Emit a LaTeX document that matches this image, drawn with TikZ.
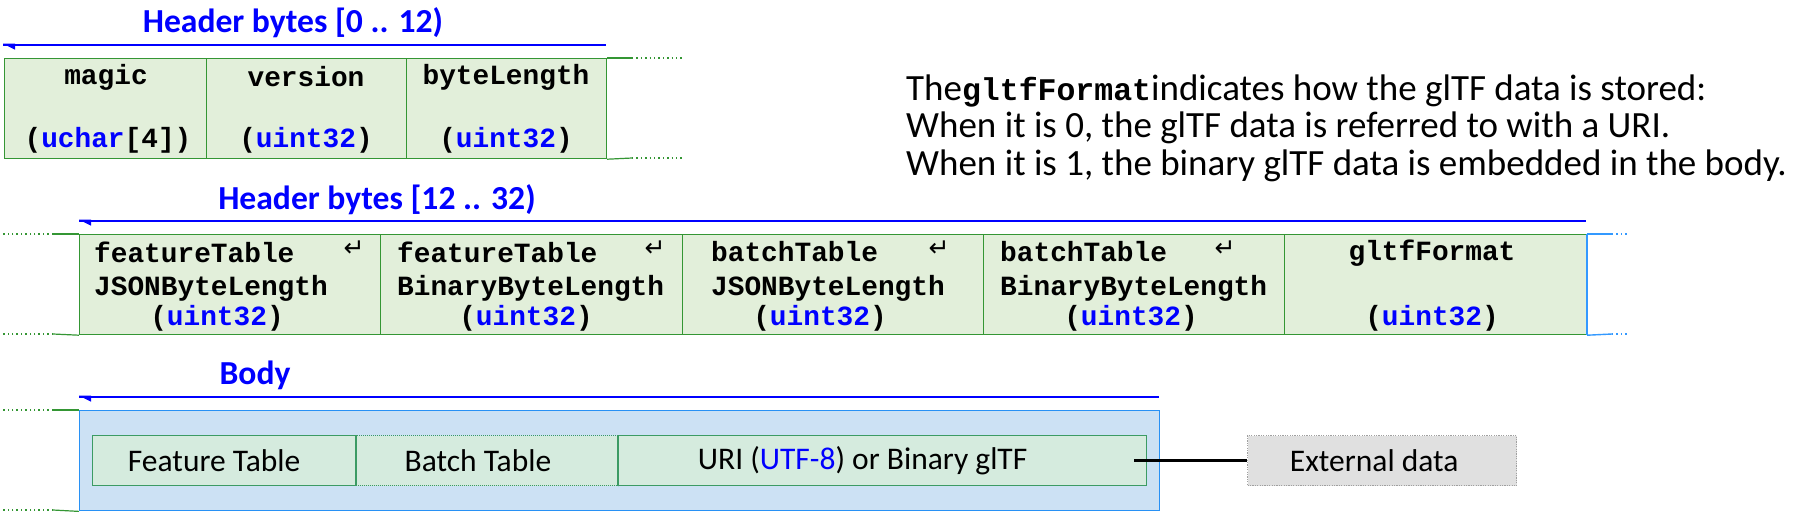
\documentclass[tikz,border=0pt]{standalone}
\usepackage{fontspec}
\setmainfont{Carlito}
\newfontfamily\monof{Liberation Mono}
\newfontfamily\symf{DejaVu Sans}
\usetikzlibrary{calc}
\definecolor{rowfill}{RGB}{226,239,218}
\definecolor{rowline}{RGB}{52,150,52}
\definecolor{bblue}{RGB}{0,0,255}
\definecolor{lblue}{RGB}{51,153,255}
\definecolor{bodyfill}{RGB}{204,225,244}
\definecolor{bodyline}{RGB}{40,145,245}
\definecolor{infill}{RGB}{213,235,222}
\definecolor{inline}{RGB}{60,155,100}
\definecolor{extfill}{RGB}{224,224,224}
\definecolor{extline}{RGB}{160,160,160}
\newcommand{\bl}[1]{\textcolor{bblue}{#1}}
\tikzset{
  rowbox/.style={draw=rowline, fill=rowfill, line width=1.2pt, inner sep=0pt, anchor=north west, minimum height=100pt},
  inbox/.style={draw=inline, fill=infill, line width=1.3pt, inner sep=0pt, anchor=north west, minimum height=50pt},
  titlet/.style={font={\fontsize{33.6}{38}\selectfont\bfseries}, text=bblue, inner sep=0pt},
  monot/.style={font={\monof\fontsize{27.8}{32}\selectfont\bfseries}, inner sep=0pt},
  sanst/.style={font={\fontsize{31.5}{36}\selectfont}, inner sep=0pt},
  desct/.style={font={\fontsize{37}{42}\selectfont}, inner sep=0pt, anchor=base west},
  symt/.style={font={\symf\fontsize{25}{28}\selectfont}, inner sep=0pt},
  barrow/.style={draw=bblue, line width=2.6pt},
  greenext/.style={draw=rowline, line width=1.2pt},
  dotext/.style={draw=rowline, line width=1.4pt, dash pattern=on 1.4pt off 3pt},
}
\begin{document}
\begin{tikzpicture}[x=1pt,y=-1pt]
\useasboundingbox (0,0) rectangle (1801,520);
% ---------- Header 1 ----------
\node[titlet] (t1) at (293,23) {Header bytes [0 .. 12)};
\coordinate (a1s) at (3,45);
\coordinate (a1e) at (606,45);
\draw[barrow] (a1s) -- (a1e);
\fill[bblue] (a1s) ++(0,-1.3) -- ++(12,0) -- ++(0,6) -- cycle;
\node[rowbox, minimum width=202pt] (r1a) at (4,58) {};
\node[rowbox, minimum width=200pt] (r1b) at (206,58) {};
\node[rowbox, minimum width=200pt] (r1c) at (406,58) {};
\node[monot] (r1a1) at (106,77) {magic};
\node[monot] (r1a2) at (108,140) {(\bl{uchar}[4])};
\node[monot] (r1b1) at (306,77) {version};
\node[monot] (r1b2) at (306,140) {(\bl{uint32})};
\node[monot] (r1c1) at (506,77) {byteLength};
\node[monot] (r1c2) at (506,140) {(\bl{uint32})};
\coordinate (e1a) at (632,58);
\coordinate (e1b) at (632,158);
\coordinate (e1c) at (682,58);
\coordinate (e1d) at (682,158);
\draw[greenext] (r1c.north east) -- (e1a);
\draw[greenext] (r1c.south east) -- (e1b);
\draw[dotext] (e1a) -- (e1c);
\draw[dotext] (e1b) -- (e1d);
% ---------- description ----------
\node[desct] (d1) at (906,100) {The{\monof\fontsize{31.5}{36}\selectfont\bfseries gltfFormat}indicates how the glTF data is stored:};
\node[desct] (d2) at (906,137.5) {When it is 0, the glTF data is referred to with a URI.};
\node[desct] (d3) at (906,175) {When it is 1, the binary glTF data is embedded in the body.};
% ---------- Header 2 ----------
\node[titlet] (t2) at (377,200) {Header bytes [12 .. 32)};
\coordinate (a2s) at (79,221);
\coordinate (a2e) at (1586,221);
\draw[barrow] (a2s) -- (a2e);
\fill[bblue] (a2s) ++(0,-1.3) -- ++(12,0) -- ++(0,6) -- cycle;
\node[rowbox, minimum width=301pt] (r2a) at (79,234) {};
\node[rowbox, minimum width=302pt] (r2b) at (380,234) {};
\node[rowbox, minimum width=301pt] (r2c) at (682,234) {};
\node[rowbox, minimum width=301pt] (r2d) at (983,234) {};
\node[rowbox, minimum width=302pt] (r2e) at (1284,234) {};
\draw[lblue, line width=1.6pt] (r2e.north east) -- (r2e.south east);
% texts
\node[monot, anchor=west] (r2a1) at (94,252) {featureTable};
\node[symt] (r2a1s) at (354,249) {↵};
\node[monot, anchor=west] (r2a2) at (94,288) {JSONByteLength};
\node[monot] (r2a3) at (217,318) {(\bl{uint32})};
\node[monot, anchor=west] (r2b1) at (397,252) {featureTable};
\node[symt] (r2b1s) at (655,249) {↵};
\node[monot, anchor=west] (r2b2) at (397,288) {BinaryByteLength};
\node[monot] (r2b3) at (526,318) {(\bl{uint32})};
\node[monot, anchor=west] (r2c1) at (711,252) {batchTable};
\node[symt] (r2c1s) at (939,249) {↵};
\node[monot, anchor=west] (r2c2) at (711,288) {JSONByteLength};
\node[monot] (r2c3) at (820,318) {(\bl{uint32})};
\node[monot, anchor=west] (r2d1) at (1000,252) {batchTable};
\node[symt] (r2d1s) at (1225,249) {↵};
\node[monot, anchor=west] (r2d2) at (1000,288) {BinaryByteLength};
\node[monot] (r2d3) at (1131,318) {(\bl{uint32})};
\node[monot] (r2e1) at (1432,253) {gltfFormat};
\node[monot] (r2e3) at (1432,318) {(\bl{uint32})};
% extensions
\coordinate (e2a) at (53,234);
\coordinate (e2b) at (53,334);
\coordinate (e2c) at (3,234);
\coordinate (e2d) at (3,334);
\draw[greenext] (r2a.north west) -- (e2a);
\draw[greenext] (r2a.south west) -- (e2b);
\draw[dotext] (e2a) -- (e2c);
\draw[dotext] (e2b) -- (e2d);
\coordinate (e2e) at (1612,234);
\coordinate (e2f) at (1612,334);
\coordinate (e2g) at (1628,234);
\coordinate (e2h) at (1628,334);
\draw[lblue, line width=1.4pt] (r2e.north east) -- (e2e);
\draw[lblue, line width=1.4pt] (r2e.south east) -- (e2f);
\draw[lblue, line width=1.4pt, dash pattern=on 1.4pt off 3pt] (e2e) -- (e2g);
\draw[lblue, line width=1.4pt, dash pattern=on 1.4pt off 3pt] (e2f) -- (e2h);
% ---------- Body ----------
\node[titlet] (t3) at (255,375) {Body};
\coordinate (a3s) at (79,397);
\coordinate (a3e) at (1159,397);
\draw[barrow] (a3s) -- (a3e);
\fill[bblue] (a3s) ++(0,-1.3) -- ++(12,0) -- ++(0,6) -- cycle;
\node[draw=bodyline, fill=bodyfill, line width=1.4pt, inner sep=0pt, anchor=north west, minimum width=1080pt, minimum height=100pt] (body) at (79,410) {};
\coordinate (e3a) at (53,410);
\coordinate (e3b) at (53,510);
\coordinate (e3c) at (3,410);
\coordinate (e3d) at (3,510);
\draw[greenext] (body.north west) -- (e3a);
\draw[greenext] (body.south west) -- (e3b);
\draw[dotext] (e3a) -- (e3c);
\draw[dotext] (e3b) -- (e3d);
\node[inbox, minimum width=263pt] (ft) at (92,435) {};
\node[inbox, minimum width=263pt, dash pattern=on 1pt off 1pt, line width=1pt] (bt) at (355,435) {};
\node[inbox, minimum width=528pt] (uri) at (618,435) {};
\draw[inline, line width=1.3pt] (ft.north east) -- (ft.south east);
\draw[inline, line width=1.3pt] (uri.north west) -- (uri.south west);
\node[sanst] (ftl) at ([xshift=-10pt]ft.center) {Feature Table};
\node[sanst] (btl) at ([xshift=-9pt]bt.center) {Batch Table};
\node[sanst] (uril) at ([xshift=-20pt]uri.center) {URI (\textcolor{bblue}{UTF-8}) or Binary glTF};
\node[draw=extline, fill=extfill, line width=1.3pt, dash pattern=on 1.2pt off 1.2pt, inner sep=0pt, anchor=north west, minimum width=269pt, minimum height=50pt] (ext) at (1247,435) {};
\node[sanst] (extl) at ([xshift=-8pt]ext.center) {External data};
\coordinate (cst) at ([xshift=-13pt]uri.east);
\draw[black, line width=2.6pt] (cst) -- (ext.west);
\end{tikzpicture}
\end{document}
